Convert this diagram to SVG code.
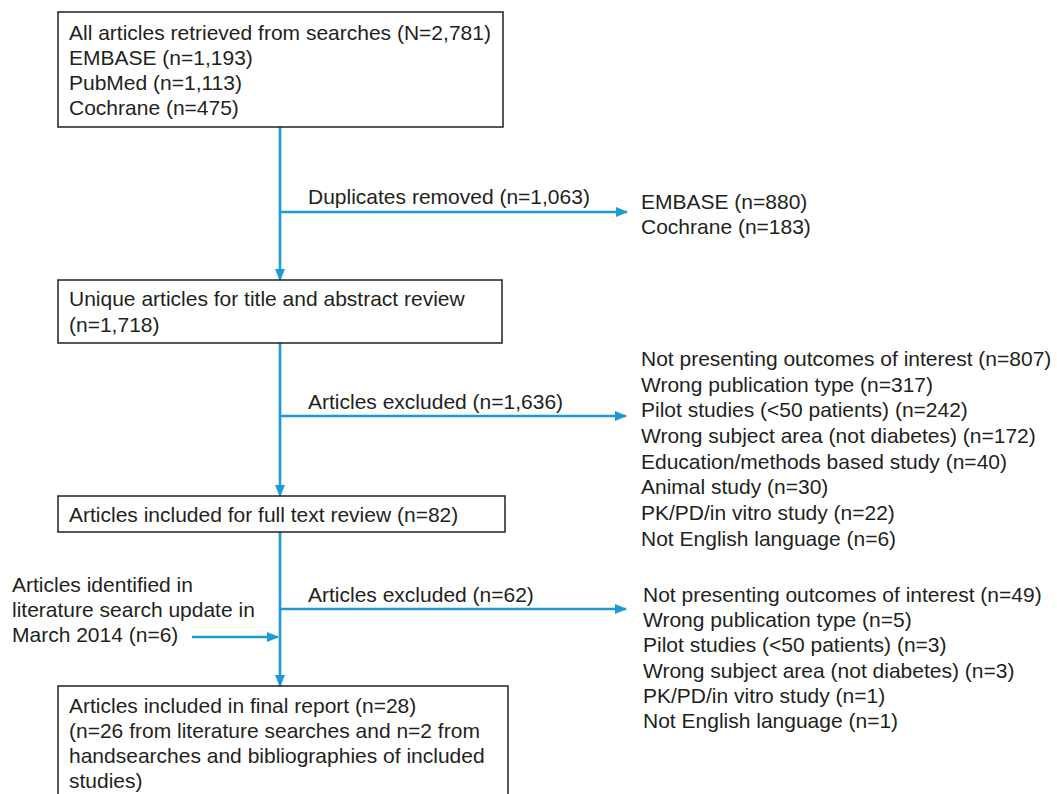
<svg xmlns="http://www.w3.org/2000/svg" width="1057" height="794" viewBox="0 0 1057 794">
<style>
text{font-family:"Liberation Sans",Arial,sans-serif;font-size:21px;fill:#231f20}
.box{fill:#fff;stroke:#231f20;stroke-width:1.5}
.c{stroke:#1b9ad6;stroke-width:2.6;fill:none}
</style>
<defs>
<marker id="ah" markerUnits="userSpaceOnUse" markerWidth="12" markerHeight="10" refX="11" refY="5" orient="auto">
<path d="M0,0 L12,5 L0,10 z" fill="#1b9ad6"/>
</marker>
</defs>
<rect width="1057" height="794" fill="#fff"/>
<g id="connectors">
<line class="c" x1="280" y1="127" x2="280" y2="280" marker-end="url(#ah)"/>
<line class="c" x1="280" y1="212" x2="627" y2="212" marker-end="url(#ah)"/>
<line class="c" x1="280" y1="343" x2="280" y2="496" marker-end="url(#ah)"/>
<line class="c" x1="280" y1="416" x2="626" y2="416" marker-end="url(#ah)"/>
<line class="c" x1="280" y1="532" x2="280" y2="686" marker-end="url(#ah)"/>
<line class="c" x1="280" y1="609" x2="626" y2="609" marker-end="url(#ah)"/>
<line class="c" x1="192" y1="637" x2="278" y2="637" marker-end="url(#ah)"/>
<text x="308" y="204">Duplicates removed (n=1,063)</text>
<text x="308" y="409">Articles excluded (n=1,636)</text>
<text x="308" y="602">Articles excluded (n=62)</text>
</g>
<g id="n1">
<rect class="box" x="58" y="12" width="445" height="115"/>
<text x="69" y="40">All articles retrieved from searches (N=2,781)</text>
<text x="69" y="65">EMBASE (n=1,193)</text>
<text x="69" y="90">PubMed (n=1,113)</text>
<text x="69" y="115">Cochrane (n=475)</text>
</g>
<g id="dup">
<text x="641" y="209">EMBASE (n=880)</text>
<text x="641" y="234">Cochrane (n=183)</text>
</g>
<g id="n2">
<rect class="box" x="58" y="280" width="444" height="63"/>
<text x="69" y="306">Unique articles for title and abstract review</text>
<text x="69" y="332">(n=1,718)</text>
</g>
<g id="excl1">
<text x="641" y="366">Not presenting outcomes of interest (n=807)</text>
<text x="641" y="392">Wrong publication type (n=317)</text>
<text x="641" y="417">Pilot studies (&lt;50 patients) (n=242)</text>
<text x="641" y="443">Wrong subject area (not diabetes) (n=172)</text>
<text x="641" y="469">Education/methods based study (n=40)</text>
<text x="641" y="494">Animal study (n=30)</text>
<text x="641" y="520">PK/PD/in vitro study (n=22)</text>
<text x="641" y="546">Not English language (n=6)</text>
</g>
<g id="n3">
<rect class="box" x="58" y="496" width="447" height="36"/>
<text x="69" y="522">Articles included for full text review (n=82)</text>
</g>
<g id="update">
<text x="12" y="592">Articles identified in</text>
<text x="12" y="617">literature search update in</text>
<text x="12" y="642">March 2014 (n=6)</text>
</g>
<g id="excl2">
<text x="643" y="602">Not presenting outcomes of interest (n=49)</text>
<text x="643" y="627">Wrong publication type (n=5)</text>
<text x="643" y="652">Pilot studies (&lt;50 patients) (n=3)</text>
<text x="643" y="678">Wrong subject area (not diabetes) (n=3)</text>
<text x="643" y="703">PK/PD/in vitro study (n=1)</text>
<text x="643" y="728">Not English language (n=1)</text>
</g>
<g id="n4">
<rect class="box" x="58" y="686" width="450" height="120"/>
<text x="69" y="713">Articles included in final report (n=28)</text>
<text x="69" y="738">(n=26 from literature searches and n=2 from</text>
<text x="69" y="763">handsearches and bibliographies of included</text>
<text x="69" y="788">studies)</text>
</g>
</svg>
